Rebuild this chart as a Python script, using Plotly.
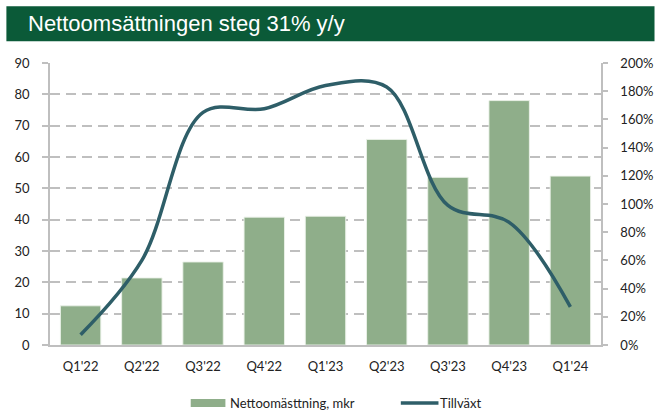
import plotly.graph_objects as go

categories = ["Q1'22", "Q2'22", "Q3'22", "Q4'22", "Q1'23", "Q2'23", "Q3'23", "Q4'23", "Q1'24"]
net_sales = [12.5, 21.4, 26.5, 40.8, 41.1, 65.6, 53.5, 78.0, 53.9]
growth = [0.073, 0.60, 1.65, 1.675, 1.84, 1.83, 0.99, 0.87, 0.27]
left_ticks = [0, 10, 20, 30, 40, 50, 60, 70, 80, 90]
right_ticks = [0, 0.2, 0.4, 0.6, 0.8, 1.0, 1.2, 1.4, 1.6, 1.8, 2.0]

title_text = "Nettoomsättningen steg 31% y/y"
bar_name = "Nettoomästtning, mkr"
line_name = "Tillväxt"

W, H = 665, 412
L, R, T, B = 50, 606, 62.7, 345
BAR_C = "#8FAE8A"
LINE_C = "#2E5E68"
FONT = "Lato"

def px(x):
    return (x - L) / (R - L)

def py(y):
    return (B - y) / (B - T)

fig = go.Figure()
fig.add_trace(go.Bar(x=categories, y=net_sales, name=bar_name, marker_color=BAR_C,
                     marker_line=dict(color="rgba(235,242,233,0.9)", width=1), showlegend=False))
fig.add_trace(go.Scatter(x=categories, y=growth, name=line_name, yaxis="y2", mode="lines",
                         line=dict(color=LINE_C, width=3.5, shape="spline", smoothing=1.0),
                         showlegend=False))

shapes = [
    dict(type="rect", xref="paper", yref="paper", x0=px(6), x1=px(660), y0=py(41), y1=py(6),
         fillcolor="#0B5A38", line=dict(width=0), layer="above"),
    dict(type="rect", xref="paper", yref="paper", x0=px(192), x1=px(227), y0=py(407), y1=py(399),
         fillcolor=BAR_C, line=dict(width=0)),
    dict(type="line", xref="paper", yref="paper", x0=px(404), x1=px(442), y0=py(403), y1=py(403),
         line=dict(color=LINE_C, width=3.5)),
]
annotations = [
    dict(text=title_text, xref="paper", yref="paper", x=px(26), y=py(23.5), xanchor="left",
         yanchor="middle", showarrow=False, font=dict(family="Liberation Sans", size=22, color="white")),
    dict(text=bar_name, xref="paper", yref="paper", x=px(230), y=py(403), xanchor="left",
         yanchor="middle", showarrow=False, font=dict(family=FONT, size=13, color="#222")),
    dict(text=line_name, xref="paper", yref="paper", x=px(442), y=py(403), xanchor="left",
         yanchor="middle", showarrow=False, font=dict(family=FONT, size=13, color="#222")),
]

fig.update_layout(
    width=W, height=H,
    margin=dict(l=L, r=W - R, t=T, b=H - B, pad=0),
    paper_bgcolor="white", plot_bgcolor="white",
    bargap=0.34,
    showlegend=False,
    font=dict(family=FONT, size=13, color="#222"),
    xaxis=dict(showline=True, linecolor="#BFBFBF", linewidth=1.5, ticks="", showgrid=False,
               ticklabelstandoff=9, tickfont=dict(size=13)),
    yaxis=dict(range=[0, 90], tickvals=left_ticks, showline=True, linecolor="#BFBFBF", linewidth=1.5,
               ticks="outside", ticklen=6, tickcolor="#BFBFBF", tickwidth=1.5,
               showgrid=True, gridcolor="#BFBFBF", gridwidth=1.5, griddash="10px,6px",
               zeroline=False, ticklabelstandoff=10),
    yaxis2=dict(range=[0, 2], tickvals=right_ticks, tickformat=".0%", overlaying="y", side="right",
                showline=True, linecolor="#BFBFBF", linewidth=1.5, ticks="outside", ticklen=5,
                tickcolor="#BFBFBF", tickwidth=1.5, showgrid=False, zeroline=False,
                ticklabelstandoff=10),
    shapes=shapes,
    annotations=annotations,
)

fig.write_html(
    "out.html",
    config={"displayModeBar": False},
    post_script="document.body.style.margin='0';document.body.style.overflow='hidden';",
)
